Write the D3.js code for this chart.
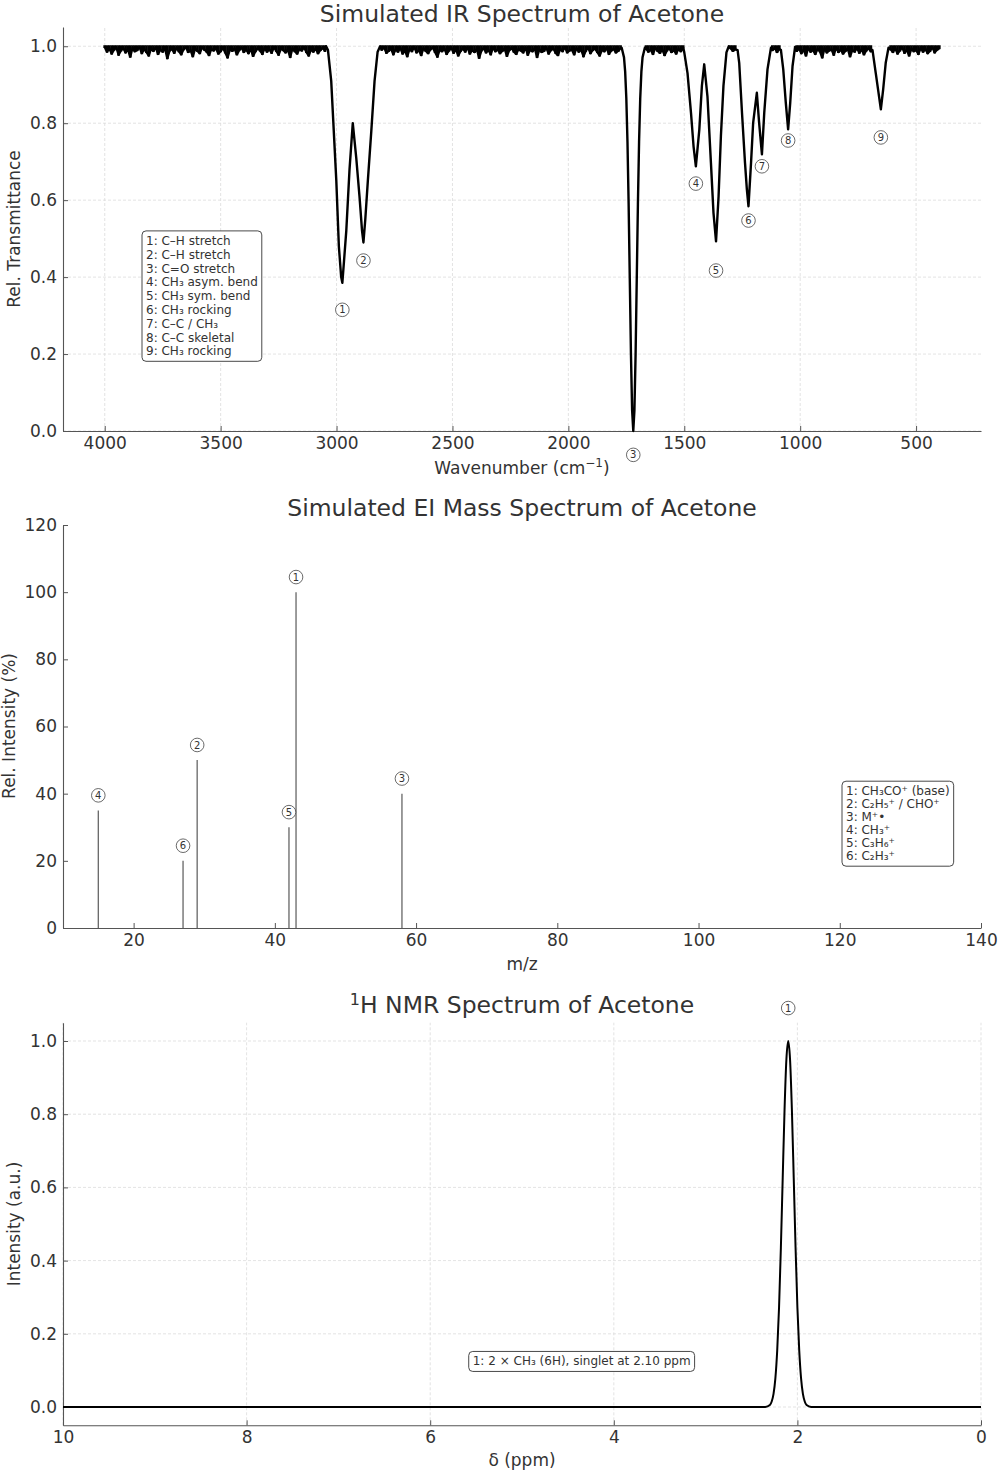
<!DOCTYPE html>
<html>
<head>
<meta charset="utf-8">
<script src="https://cdn.jsdelivr.net/npm/d3@7"></script>
<style>
  body { margin: 0; background: #fff; }
  svg text { font-family: 'DejaVu Sans', sans-serif; fill: #333; }
</style>
</head>
<body>
<div id="chart"></div>
<script>
// ---------- IR data ----------
const irXTicks = [4000, 3500, 3000, 2500, 2000, 1500, 1000, 500]
const irYTicks = [0.0, 0.2, 0.4, 0.6, 0.8, 1.0]

// absorption bands: [wavenumber, transmittance]
const irPeakPoints = [
  [3045, 1.0], [3037, 0.99], [3023, 0.91], [3012, 0.78], [3001, 0.65], [2990, 0.48],
  [2980, 0.40], [2975, 0.385], [2968, 0.44], [2958, 0.52], [2944, 0.68], [2930, 0.80],
  [2915, 0.71], [2901, 0.61], [2890, 0.52], [2884, 0.49], [2876, 0.55], [2865, 0.65],
  [2850, 0.78], [2836, 0.91], [2823, 0.985], [2812, 1.0],
  [1770, 0.996], [1760, 0.971], [1755, 0.934], [1750, 0.865], [1745, 0.751], [1740, 0.589],
  [1735, 0.393], [1730, 0.199], [1725, 0.054], [1720, 0.0], [1715, 0.054], [1710, 0.199],
  [1705, 0.393], [1700, 0.589], [1695, 0.751], [1690, 0.865], [1685, 0.934], [1680, 0.971],
  [1670, 0.996],
  [1500, 0.984], [1486, 0.93], [1471, 0.827], [1460, 0.74], [1450, 0.688], [1435, 0.784],
  [1424, 0.897], [1414, 0.953], [1400, 0.87], [1385, 0.697], [1374, 0.567], [1363, 0.493],
  [1352, 0.61], [1342, 0.766], [1331, 0.897], [1318, 0.984], [1308, 1.0],
  [1270, 0.99], [1263, 0.957], [1251, 0.827], [1238, 0.697], [1230, 0.628], [1223, 0.584],
  [1212, 0.697], [1203, 0.80], [1187, 0.879], [1177, 0.80], [1165, 0.719], [1155, 0.827],
  [1141, 0.94], [1126, 0.996],
  [1083, 0.99], [1073, 0.94], [1062, 0.853], [1052, 0.784], [1043, 0.853], [1033, 0.948],
  [1022, 0.998],
  [688, 0.99], [674, 0.93], [662, 0.879], [652, 0.836], [642, 0.888], [631, 0.957], [619, 0.996]
]

// baseline noise dips (thousandths below 1.0), one value every 10 cm-1 from each start
const irNoiseStep = 10
const irNoiseStarts = [4000, 2805, 1665, 1300, 1120, 1015, 610]
const irNoise1 = [2, 14, 6, 19, 9, 3, 22, 11, 5, 16, 8, 27, 4, 13, 10, 2, 18, 7, 15, 24,
  6, 12, 3, 20, 9, 14, 5, 31, 11, 7, 17, 4, 13, 21, 8, 2, 15, 10, 26, 6,
  12, 18, 3, 9, 14, 23, 7, 11, 5, 19, 13, 4, 16, 29, 8, 12, 6, 21, 10, 3,
  15, 9, 18, 7, 25, 13, 5, 11, 20, 4, 14, 8, 17, 2, 12, 22, 6, 10, 16, 9,
  28, 5, 13, 19, 7, 11, 3, 15, 24, 8, 14, 6, 18, 10, 4, 12]
const irNoise2 = [9, 3, 17, 12, 6, 21, 8, 14, 4, 19, 11, 26, 7, 13, 2, 16, 10, 23, 5, 12,
  18, 8, 3, 15, 27, 9, 13, 6, 20, 11, 4, 17, 8, 24, 12, 6, 14, 2, 19, 10,
  15, 7, 30, 11, 5, 16, 9, 21, 3, 13, 8, 18, 12, 6, 25, 10, 4, 14, 20, 7,
  11, 16, 3, 22, 9, 13, 5, 28, 8, 15, 12, 4, 19, 10, 6, 17, 23, 7, 13, 2,
  16, 11, 9, 21, 5, 14, 8, 26, 12, 3, 18, 10, 6, 15, 24, 9, 13, 4, 20, 11,
  7, 16, 12, 5]
const irNoise3 = [6, 14, 9, 20, 4, 12, 17, 8, 23, 11, 5, 15, 10, 19, 7, 13, 3]
const irNoise4 = [5, 12, 8]
const irNoise5 = [10, 4, 15, 7]
const irNoise6 = [12, 6, 18, 9, 24, 4, 14, 10, 20, 7, 13, 29, 5, 16, 11, 8, 22, 3, 15, 9,
  19, 12, 6, 26, 10, 14, 4, 17, 8, 21, 11, 5, 13]
const irNoise7 = [8, 15, 5, 19, 11, 3, 17, 9, 24, 6, 13, 10, 20, 4, 14, 7, 18, 12, 2, 16, 9, 5]
const irNoise = [irNoise1, irNoise2, irNoise3, irNoise4, irNoise5, irNoise6, irNoise7]

const irLabelNum = [1, 2, 3, 4, 5, 6, 7, 8, 9]
const irLabelWn = [2975, 2884, 1720, 1450, 1363, 1223, 1165, 1052, 652]
const irLabelT = [0.315, 0.443, -0.062, 0.643, 0.417, 0.547, 0.688, 0.755, 0.763]
const irLegend = ['1: C–H stretch', '2: C–H stretch', '3: C=O stretch', '4: CH₃ asym. bend',
  '5: CH₃ sym. bend', '6: CH₃ rocking', '7: C–C / CH₃', '8: C–C skeletal', '9: CH₃ rocking']

// ---------- MS data ----------
const msXTicks = [20, 40, 60, 80, 100, 120, 140]
const msYTicks = [0, 20, 40, 60, 80, 100, 120]
const msMz = [15, 27, 29, 42, 43, 58]
const msIntensity = [35, 20, 50, 30, 100, 40]
const msLabelNum = [4, 6, 2, 5, 1, 3]
const msLegend = ['1: CH₃CO⁺ (base)', '2: C₂H₅⁺ / CHO⁺', '3: M⁺•', '4: CH₃⁺', '5: C₃H₆⁺', '6: C₂H₃⁺']

// ---------- NMR data ----------
const nmrXTicks = [10, 8, 6, 4, 2, 0]
const nmrYTicks = [0.0, 0.2, 0.4, 0.6, 0.8, 1.0]
const nmrPoints = [
  [10.0, 0], [2.40, 0], [2.35, 0.0003], [2.30, 0.0055], [2.28, 0.015], [2.26, 0.036],
  [2.24, 0.078], [2.22, 0.154], [2.20, 0.272], [2.18, 0.435], [2.16, 0.626], [2.14, 0.812],
  [2.12, 0.949], [2.10, 1.0], [2.08, 0.949], [2.06, 0.812], [2.04, 0.626], [2.02, 0.435],
  [2.00, 0.272], [1.98, 0.154], [1.96, 0.078], [1.94, 0.036], [1.92, 0.015], [1.90, 0.0055],
  [1.85, 0.0003], [1.80, 0], [0.0, 0]
]
const nmrLabelPpm = 2.10
const nmrLabelY = 1.09
const nmrNote = '1: 2 × CH₃ (6H), singlet at 2.10 ppm'
const nmrNotePos = [4.35, 0.125]

// ---------- layout ----------
const width = 1000
const height = 1471
const left = 63
const right = 981
const tickFont = 17

const svg = d3.select('#chart')
  .append('svg')
  .attr('width', width)
  .attr('height', height)

function drawAxes(x, y, xTicks, yTicks, yFmt, grid) {
  const g = svg.append('g')
  const [y0, y1] = y.range()
  if (grid) {
    g.selectAll('.gx').data(xTicks).join('line')
      .attr('x1', d => x(d)).attr('x2', d => x(d))
      .attr('y1', y0).attr('y2', y1)
      .attr('stroke', '#dcdcdc').attr('stroke-width', 0.8).attr('stroke-dasharray', '3,2')
    g.selectAll('.gy').data(yTicks).join('line')
      .attr('x1', left).attr('x2', right)
      .attr('y1', d => y(d)).attr('y2', d => y(d))
      .attr('stroke', '#dcdcdc').attr('stroke-width', 0.8).attr('stroke-dasharray', '3,2')
  }
  const xa = g.append('g')
    .attr('transform', `translate(0,${y0})`)
    .call(d3.axisBottom(x).tickValues(xTicks).tickFormat(d3.format('d'))
      .tickSizeInner(-5).tickSizeOuter(0).tickPadding(6))
  const ya = g.append('g')
    .attr('transform', `translate(${left},0)`)
    .call(d3.axisLeft(y).tickValues(yTicks).tickFormat(d3.format(yFmt))
      .tickSizeInner(-5).tickSizeOuter(0).tickPadding(6))
  for (const a of [xa, ya]) {
    a.selectAll('text').attr('font-size', tickFont).attr('font-family', 'DejaVu Sans').style('fill', '#333')
    a.selectAll('line').attr('stroke', '#555')
    a.select('.domain').attr('stroke', '#555').attr('stroke-width', 1.1)
  }
  return g
}

function title(y, txt) {
  return svg.append('text')
    .attr('x', (left + right) / 2).attr('y', y)
    .attr('text-anchor', 'middle').attr('font-size', 23.5)
    .text(txt)
}

function yLabel(x, cy, txt) {
  svg.append('text')
    .attr('transform', `translate(${x},${cy}) rotate(-90)`)
    .attr('text-anchor', 'middle').attr('font-size', tickFont)
    .text(txt)
}

function xLabel(y, txt) {
  return svg.append('text')
    .attr('x', (left + right) / 2).attr('y', y)
    .attr('text-anchor', 'middle').attr('font-size', tickFont)
    .text(txt)
}

function circled(g, cx, cy, num) {
  g.append('circle')
    .attr('cx', cx).attr('cy', cy).attr('r', 6.8)
    .attr('fill', 'white').attr('stroke', '#444').attr('stroke-width', 0.8)
  g.append('text')
    .attr('x', cx).attr('y', cy).attr('dy', '0.36em')
    .attr('text-anchor', 'middle').attr('font-size', 10)
    .text(num)
}

function textBox(lines, x0, yFirst, step) {
  const g = svg.append('g')
  const box = g.append('rect')
  const t = g.append('g')
  lines.forEach((s, i) => {
    t.append('text')
      .attr('x', x0).attr('y', yFirst + i * step).attr('dy', '0.35em')
      .attr('font-size', 12)
      .text(s)
  })
  const b = t.node().getBBox()
  box.attr('x', b.x - 4).attr('y', b.y - 3)
    .attr('width', b.width + 8).attr('height', b.height + 6)
    .attr('rx', 4)
    .attr('fill', 'white').attr('stroke', '#333').attr('stroke-width', 0.9)
  return g
}

// ---------- IR panel ----------
const irX = d3.scaleLinear().domain([4180, 220]).range([left, right])
const irY = d3.scaleLinear().domain([0, 1.05]).range([431, 27])
drawAxes(irX, irY, irXTicks, irYTicks, '.1f', true)

// baseline samples: [wavenumber, transmittance]
const irNoisePoints = []
irNoise.forEach((seg, s) => {
  seg.forEach((d, i) => irNoisePoints.push([irNoiseStarts[s] - i * irNoiseStep, 1 - d / 1000]))
})
const irPoints = irPeakPoints.concat(irNoisePoints).sort((a, b) => b[0] - a[0])

// noise drawn as dense dips hanging from the 1.0 baseline
const dipW = Math.abs(irX(0) - irX(irNoiseStep)) + 0.4
svg.append('g').selectAll('rect')
  .data(irNoisePoints)
  .join('rect')
  .attr('x', d => irX(d[0]) - dipW / 2)
  .attr('width', dipW)
  .attr('y', irY(1.0) - 1)
  .attr('height', d => irY(d[1]) - irY(1.0) + 2)
  .attr('fill', 'black')

svg.append('path')
  .datum(irPoints)
  .attr('fill', 'none')
  .attr('stroke', 'black')
  .attr('stroke-width', 2.4)
  .attr('stroke-linejoin', 'round')
  .attr('d', d3.line().x(d => irX(d[0])).y(d => irY(d[1])))

const irAnn = svg.append('g')
irLabelNum.forEach((n, i) => circled(irAnn, irX(irLabelWn[i]), irY(irLabelT[i]), n))

textBox(irLegend, 146, 240.7, 13.8)

title(22, 'Simulated IR Spectrum of Acetone')
yLabel(20, 229, 'Rel. Transmittance')
const irXl = xLabel(474, 'Wavenumber (cm')
irXl.append('tspan').attr('dy', -7).attr('font-size', 12).text('−1')
irXl.append('tspan').attr('dy', 7).text(')')

// ---------- MS panel ----------
const msX = d3.scaleLinear().domain([10, 140]).range([left, right])
const msY = d3.scaleLinear().domain([0, 120]).range([928, 525])
drawAxes(msX, msY, msXTicks, msYTicks, 'd', false)

svg.append('g').selectAll('line')
  .data(msMz)
  .join('line')
  .attr('x1', d => msX(d)).attr('x2', d => msX(d))
  .attr('y1', msY(0))
  .attr('y2', (d, i) => msY(msIntensity[i]))
  .attr('stroke', '#666')
  .attr('stroke-width', 1.3)

const msAnn = svg.append('g')
msMz.forEach((m, i) => circled(msAnn, msX(m), msY(msIntensity[i] + 4.5), msLabelNum[i]))

textBox(msLegend, 846, 791, 13)

title(516, 'Simulated EI Mass Spectrum of Acetone')
yLabel(15, 726, 'Rel. Intensity (%)')
xLabel(970, 'm/z')

// ---------- NMR panel ----------
const nmrX = d3.scaleLinear().domain([10, 0]).range([left, right])
const nmrY = d3.scaleLinear().domain([-0.05, 1.05]).range([1425.3, 1022.7])
drawAxes(nmrX, nmrY, nmrXTicks, nmrYTicks, '.1f', true)

svg.append('path')
  .datum(nmrPoints)
  .attr('fill', 'none')
  .attr('stroke', 'black')
  .attr('stroke-width', 2)
  .attr('d', d3.line().x(d => nmrX(d[0])).y(d => nmrY(d[1])).curve(d3.curveMonotoneX))

circled(svg.append('g'), nmrX(nmrLabelPpm), nmrY(nmrLabelY), 1)

const note = textBox([nmrNote], 0, nmrY(nmrNotePos[1]), 0)
const nb = note.node().getBBox()
note.attr('transform', `translate(${nmrX(nmrNotePos[0]) - nb.width / 2 - nb.x},0)`)

const nmrT = title(1013, '')
nmrT.append('tspan').attr('dy', -8).attr('font-size', 16).text('1')
nmrT.append('tspan').attr('dy', 8).text('H NMR Spectrum of Acetone')
yLabel(20, 1224, 'Intensity (a.u.)')
xLabel(1466, 'δ (ppm)')
</script>
</body>
</html>
